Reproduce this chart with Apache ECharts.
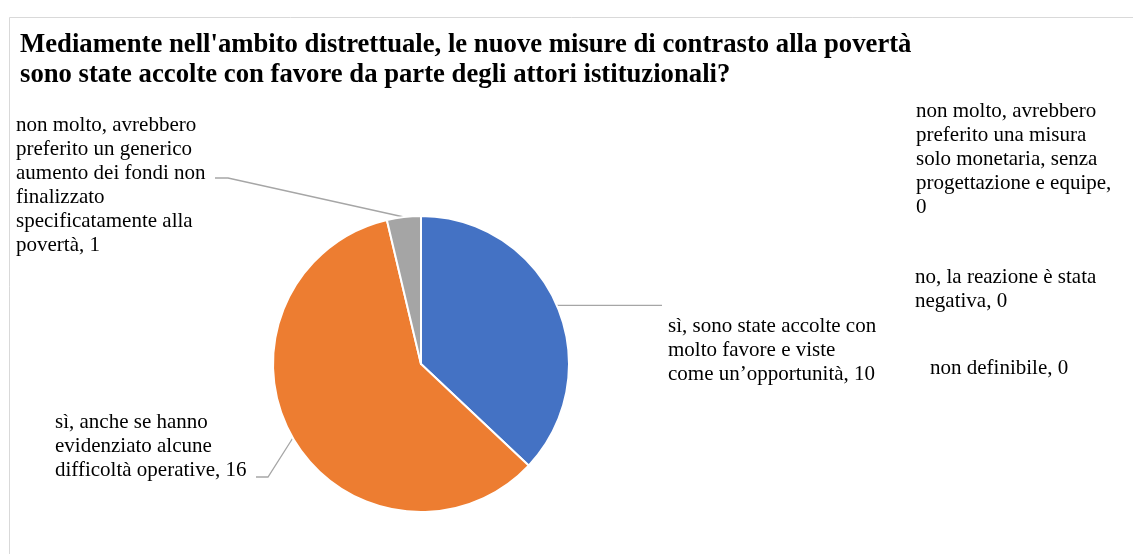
<!DOCTYPE html>
<html>
<head>
<meta charset="utf-8">
<script src="https://cdn.jsdelivr.net/npm/echarts@6/dist/echarts.min.js"></script>
<style>
  html, body { margin: 0; padding: 0; background: #fff; }
  #chart { width: 1133px; height: 554px; }
</style>
</head>
<body>
<div id="chart"></div>
<script>
// Answer categories (line breaks as they wrap in the labels)
const categories = [
  'sì, sono state accolte con\nmolto favore e viste\ncome un’opportunità',
  'sì, anche se hanno\nevidenziato alcune\ndifficoltà operative',
  'non molto, avrebbero\npreferito un generico\naumento dei fondi non\nfinalizzato\nspecificatamente alla\npovertà',
  'non molto, avrebbero\npreferito una misura\nsolo monetaria, senza\nprogettazione e equipe',
  'no, la reazione è stata\nnegativa',
  'non definibile'
];
// Number of districts giving each answer
const counts = [10, 16, 1, 0, 0, 0];
const colors = ['#4472C4', '#ED7D31', '#A5A5A5', '#5B9BD5', '#FFC000', '#70AD47'];

const titleText = "Mediamente nell'ambito distrettuale, le nuove misure di contrasto alla povertà\nsono state accolte con favore da parte degli attori istituzionali?";

// Label boxes (left/top) and leader-line bends for each slice
const labelPlacement = [
  { x: 668, y: 314, line: (p) => [p, [662, p[1]]] },
  { x: 55,  y: 410, line: (p) => [p, [268, 477], [256, 477]] },
  { x: 16,  y: 113, line: (p) => [p, [228, 178], [215, 178]] },
  { x: 916, y: 99 },
  { x: 915, y: 265 },
  { x: 930, y: 356 }
];

const seriesData = categories.map((name, i) => ({
  name: name,
  value: counts[i],
  itemStyle: { color: colors[i] },
  labelLine: { show: counts[i] > 0 }
}));

const chart = echarts.init(document.getElementById('chart'), null, { renderer: 'canvas' });

chart.setOption({
  backgroundColor: '#ffffff',
  animation: false,
  graphic: [{
    type: 'rect',
    left: 7, top: 15,
    shape: { width: 1150, height: 560 },
    style: { fill: 'none', stroke: '#d9d9d9', lineWidth: 1 },
    silent: true,
    z: -1
  }],
  title: {
    text: titleText,
    left: 15,
    top: 25,
    textStyle: {
      fontFamily: 'Liberation Serif',
      fontWeight: 'bold',
      fontSize: 26.7,
      lineHeight: 30,
      color: '#000000'
    }
  },
  series: [{
    type: 'pie',
    center: [421, 364],
    radius: 148,
    startAngle: 90,
    clockwise: true,
    avoidLabelOverlap: false,
    data: seriesData,
    itemStyle: { borderColor: '#ffffff', borderWidth: 2 },
    label: {
      show: true,
      position: 'outside',
      formatter: (p) => p.name + ',' + (p.dataIndex === 3 ? '\n' : ' ') + p.value,
      fontFamily: 'Liberation Serif',
      fontSize: 21,
      lineHeight: 24,
      color: '#000000',
      align: 'left'
    },
    labelLine: {
      show: true,
      length: 20,
      length2: 20,
      lineStyle: { color: '#a6a6a6', width: 1.3 }
    },
    labelLayout: (params) => {
      const pl = labelPlacement[params.dataIndex];
      const out = { x: pl.x, y: pl.y, align: 'left', verticalAlign: 'top' };
      if (pl.line && params.labelLinePoints) {
        out.labelLinePoints = pl.line(params.labelLinePoints[0]);
      }
      return out;
    }
  }]
});
</script>
</body>
</html>
